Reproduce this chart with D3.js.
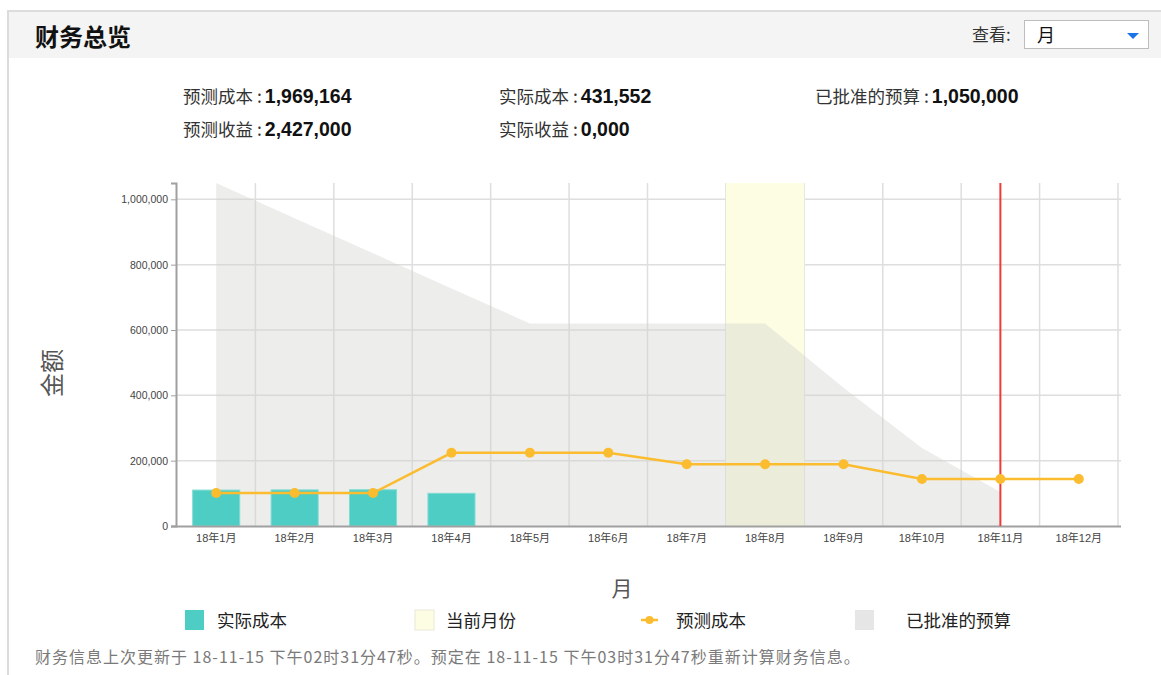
<!DOCTYPE html>
<html>
<head>
<meta charset="utf-8">
<script src="https://cdn.jsdelivr.net/npm/d3@7"></script>
<style>
  html, body { margin: 0; padding: 0; background: #fff; }
  svg { display: block; font-family: "Noto Sans CJK SC", "Liberation Sans", sans-serif; }
  .num { font-family: "Liberation Sans", Arial, sans-serif; }
</style>
</head>
<body>
<div id="chart"></div>
<script>
const months = ['18年1月', '18年2月', '18年3月', '18年4月', '18年5月', '18年6月',
  '18年7月', '18年8月', '18年9月', '18年10月', '18年11月', '18年12月'];
const actualCost = [110000, 110500, 111000, 100052];
const forecastCost = [101000, 101000, 101000, 224000, 224000, 224000,
  189000, 189000, 189000, 144000, 144000, 144000];
const approvedBudget = [1050000, 942000, 835000, 727000, 620000, 620000,
  620000, 620000, 423000, 239000, 104000];
const yTicks = [0, 200000, 400000, 600000, 800000, 1000000];
const currentMonth = '18年8月';
const todayMonth = '18年11月';

const summary = [
  {label: '预测成本 :', value: '1,969,164', x: 183, y: 103},
  {label: '预测收益 :', value: '2,427,000', x: 183, y: 136},
  {label: '实际成本 :', value: '431,552', x: 499, y: 103},
  {label: '实际收益 :', value: '0,000', x: 499, y: 136},
  {label: '已批准的预算 :', value: '1,050,000', x: 815, y: 103},
];

const W = 1161, H = 675;
const plot = {left: 177, right: 1118, top: 183, bottom: 526};

const svg = d3.select('#chart').append('svg')
  .attr('width', W)
  .attr('height', H);

// panel + header
svg.append('rect').attr('x', 8).attr('y', 11).attr('width', W - 8).attr('height', 47).attr('fill', '#f4f4f4');
svg.append('line').attr('x1', 8).attr('x2', W).attr('y1', 11).attr('y2', 11).attr('stroke', '#dcdcdc').attr('stroke-width', 2);
svg.append('line').attr('x1', 8).attr('x2', 8).attr('y1', 10).attr('y2', H).attr('stroke', '#dcdcdc').attr('stroke-width', 2);

svg.append('text')
  .attr('x', 35).attr('y', 46)
  .attr('font-size', 24).attr('font-weight', 700).attr('fill', '#111')
  .text('财务总览');

svg.append('text')
  .attr('x', 972).attr('y', 41)
  .attr('font-size', 17).attr('fill', '#333')
  .text('查看:');
svg.append('rect')
  .attr('x', 1024.5).attr('y', 20.5).attr('width', 124).attr('height', 28)
  .attr('fill', '#fff').attr('stroke', '#bdbdbd');
svg.append('text')
  .attr('x', 1037).attr('y', 42)
  .attr('font-size', 18).attr('fill', '#111')
  .text('月');
svg.append('path')
  .attr('d', 'M1127,33 L1139,33 L1133,39 Z')
  .attr('fill', '#1b73e8');

// summary numbers
const sumG = svg.selectAll('.summary').data(summary).enter()
  .append('text')
  .attr('class', 'summary')
  .attr('x', d => d.x).attr('y', d => d.y);
sumG.append('tspan')
  .attr('font-size', 17.5).attr('fill', '#333')
  .text(d => d.label);
sumG.append('tspan')
  .attr('class', 'num')
  .attr('dx', 3)
  .attr('font-size', 19.5).attr('font-weight', 700).attr('fill', '#111')
  .text(d => d.value);

// scales
const x = d3.scaleBand()
  .domain(months)
  .range([plot.left, plot.right])
  .paddingInner(0).paddingOuter(0);
const xc = m => x(m) + x.bandwidth() / 2;
const y = d3.scaleLinear()
  .domain([0, 1050000])
  .range([plot.bottom, plot.top]);

const chart = svg.append('g');

// grid
chart.append('g').selectAll('line')
  .data(yTicks.filter(d => d > 0)).enter()
  .append('line')
  .attr('x1', plot.left).attr('x2', plot.right + 3)
  .attr('y1', d => y(d)).attr('y2', d => y(d))
  .attr('stroke', '#dedede').attr('stroke-width', 1.5);
chart.append('g').selectAll('line')
  .data(months).enter()
  .append('line')
  .attr('x1', d => x(d) + x.bandwidth()).attr('x2', d => x(d) + x.bandwidth())
  .attr('y1', plot.top).attr('y2', plot.bottom)
  .attr('stroke', '#dedede').attr('stroke-width', 1.5);

// current month band
chart.append('rect')
  .attr('x', x(currentMonth)).attr('y', plot.top)
  .attr('width', x.bandwidth()).attr('height', plot.bottom - plot.top)
  .attr('fill', '#fdfde3');

// approved budget area
const area = d3.area()
  .x((d, i) => xc(months[i]))
  .y0(y(0))
  .y1(d => y(d));
chart.append('path')
  .datum(approvedBudget)
  .attr('d', area)
  .attr('fill', '#d2d2d0')
  .attr('fill-opacity', 0.4);

// actual cost bars
const barW = x.bandwidth() * 0.6;
chart.append('g').selectAll('rect')
  .data(actualCost).enter()
  .append('rect')
  .attr('x', (d, i) => xc(months[i]) - barW / 2)
  .attr('y', d => y(d))
  .attr('width', barW)
  .attr('height', d => y(0) - y(d))
  .attr('fill', '#4ecdc4')
  .attr('stroke', '#7fdcd5').attr('stroke-width', 1);

// axes
const yAxis = d3.axisLeft(y).tickValues(yTicks).tickSize(5).tickSizeOuter(5)
  .tickFormat(d3.format(','));
const yG = chart.append('g')
  .attr('transform', `translate(${plot.left - 1},0)`)
  .call(yAxis);
yG.select('.domain').attr('stroke', '#a0a0a0').attr('stroke-width', 2);
yG.selectAll('.tick line').attr('stroke', '#a0a0a0');
yG.selectAll('.tick text')
  .attr('class', 'num').attr('font-size', 10.5).attr('fill', '#444');

const xAxis = d3.axisBottom(x).tickSize(0).tickPadding(8);
const xG = chart.append('g')
  .attr('transform', `translate(0,${plot.bottom})`)
  .call(xAxis);
xG.select('.domain').attr('d', `M${plot.left - 6},0.5H${plot.right + 3}`)
  .attr('stroke', '#a0a0a0').attr('stroke-width', 2);
xG.selectAll('.tick text')
  .attr('font-size', 11).attr('fill', '#444')
  .attr('font-family', '"Liberation Sans", "Noto Sans CJK SC", sans-serif');

// today marker
chart.append('line')
  .attr('x1', xc(todayMonth)).attr('x2', xc(todayMonth))
  .attr('y1', plot.top).attr('y2', plot.bottom)
  .attr('stroke', '#f03a3a').attr('stroke-width', 2);

// forecast cost line
const line = d3.line()
  .x((d, i) => xc(months[i]))
  .y(d => y(d));
chart.append('path')
  .datum(forecastCost)
  .attr('d', line)
  .attr('fill', 'none')
  .attr('stroke', '#fbbc2f').attr('stroke-width', 2.5);
chart.append('g').selectAll('circle')
  .data(forecastCost).enter()
  .append('circle')
  .attr('cx', (d, i) => xc(months[i]))
  .attr('cy', d => y(d))
  .attr('r', 5)
  .attr('fill', '#fbbc2f');

// axis titles
svg.append('text')
  .attr('transform', 'translate(61,373) rotate(-90)')
  .attr('text-anchor', 'middle')
  .attr('font-size', 24).attr('fill', '#555')
  .text('金额');
svg.append('text')
  .attr('x', 622).attr('y', 596)
  .attr('text-anchor', 'middle')
  .attr('font-size', 21).attr('fill', '#555')
  .text('月');

// legend
const legend = [
  {name: '实际成本', type: 'rect', color: '#4ecdc4', x: 185, tx: 32},
  {name: '当前月份', type: 'rect', color: '#fdfde3', x: 415, tx: 31, stroke: '#e8e8d8'},
  {name: '预测成本', type: 'line', color: '#fbbc2f', x: 641, tx: 35},
  {name: '已批准的预算', type: 'rect', color: '#e6e6e6', x: 855, tx: 51},
];
const lg = svg.append('g').selectAll('g')
  .data(legend).enter()
  .append('g')
  .attr('transform', d => `translate(${d.x},620)`);
lg.filter(d => d.type === 'rect').append('rect')
  .attr('x', 0).attr('y', -10).attr('width', 19).attr('height', 20)
  .attr('fill', d => d.color)
  .attr('stroke', d => d.stroke || 'none');
lg.filter(d => d.type === 'line').append('line')
  .attr('x1', 0).attr('x2', 17).attr('y1', 0).attr('y2', 0)
  .attr('stroke', d => d.color).attr('stroke-width', 2.5);
lg.filter(d => d.type === 'line').append('circle')
  .attr('cx', 8.5).attr('cy', 0).attr('r', 4)
  .attr('fill', d => d.color);
lg.append('text')
  .attr('x', d => d.tx)
  .attr('y', 6.5)
  .attr('font-size', 17.5).attr('fill', '#222')
  .text(d => d.name);

// footer
svg.append('text')
  .attr('x', 35).attr('y', 663)
  .attr('font-size', 16).attr('letter-spacing', 1).attr('fill', '#7a7a7a')
  .text('财务信息上次更新于 18-11-15 下午02时31分47秒。预定在 18-11-15 下午03时31分47秒重新计算财务信息。');
</script>
</body>
</html>
